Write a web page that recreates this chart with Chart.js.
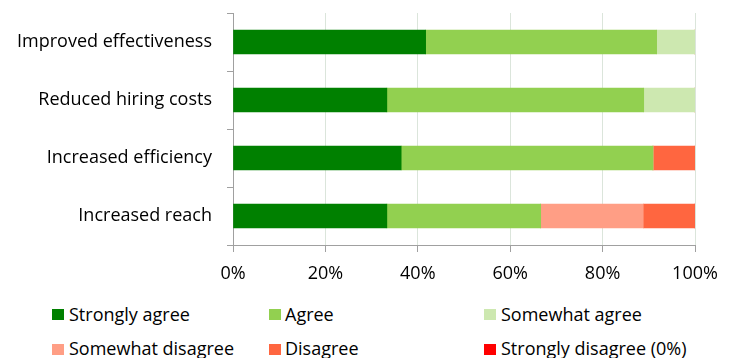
<!DOCTYPE html>
<html>
<head>
<meta charset="utf-8">
<script src="https://cdn.jsdelivr.net/npm/chart.js@4/dist/chart.umd.min.js"></script>
<style>
  html, body { margin: 0; padding: 0; background: #fff; }
  #wrap { position: relative; width: 731px; height: 358px; overflow: hidden; font-family: "Open Sans", sans-serif; }
  #chartBox { position: absolute; left: 0; top: 0; width: 731px; height: 290px; }
  .lg { position: absolute; font-size: 18px; line-height: 22px; color: #000; white-space: nowrap; }
  .sw { position: absolute; width: 12px; height: 11px; }
</style>
</head>
<body>
<div id="wrap">
  <div id="chartBox"><canvas id="c"></canvas></div>
  <div id="legend"></div>
</div>
<script>
const categories = ['Improved effectiveness', 'Reduced hiring costs', 'Increased efficiency', 'Increased reach'];
const seriesNames = ['Strongly agree', 'Agree', 'Somewhat agree', 'Somewhat disagree', 'Disagree', 'Strongly disagree (0%)'];
const stronglyAgree    = [41.7, 33.3, 36.4, 33.3];
const agree            = [50.0, 55.6, 54.5, 33.3];
const somewhatAgree    = [8.3, 11.1, 0, 0];
const somewhatDisagree = [0, 0, 0, 22.2];
const disagree         = [0, 0, 9.1, 11.1];
const stronglyDisagree = [0, 0, 0, 0];
const xTicks = [0, 20, 40, 60, 80, 100];

const colors = ['#008000', '#92d050', '#cde8b0', '#ff9e85', '#ff6640', '#ff0000'];
const values = [stronglyAgree, agree, somewhatAgree, somewhatDisagree, disagree, stronglyDisagree];

const FONT = { family: '"Open Sans", sans-serif', size: 18 };

const chart = new Chart(document.getElementById('c'), {
  type: 'bar',
  data: {
    labels: categories,
    datasets: seriesNames.map((n, i) => ({
      label: n,
      data: values[i],
      backgroundColor: colors[i],
      borderWidth: 0,
      barThickness: 24
    }))
  },
  options: {
    indexAxis: 'y',
    responsive: true,
    maintainAspectRatio: false,
    animation: false,
    layout: { padding: { top: 0, right: 36, left: 0, bottom: 0 } },
    plugins: { legend: { display: false }, tooltip: { enabled: false } },
    scales: {
      x: {
        stacked: true,
        min: 0, max: 100,
        afterBuildTicks: (s) => { s.ticks = xTicks.map(v => ({ value: v })); },
        afterFit: (s) => { s.height = 45; },
        ticks: { callback: (v) => v + '%', color: '#000', font: FONT, padding: 11, maxRotation: 0 },
        grid: { color: '#dbe5db', tickColor: '#a0a0a0', tickLength: 7, lineWidth: 1 },
        border: { color: '#a0a0a0', width: 1 }
      },
      y: {
        stacked: true,
        afterFit: (s) => { s.width = 233; s.paddingTop = 13; s.paddingBottom = 0; },
        ticks: { color: '#000', font: FONT, padding: 15 },
        grid: { drawOnChartArea: false, color: '#a0a0a0', tickLength: 6, offset: true },
        border: { color: '#a0a0a0', width: 1 }
      }
    }
  }
});

// HTML legend built from the chart's datasets
const legend = document.getElementById('legend');
const boxX = [52, 269, 484];
const textX = [69, 285, 501];
const rowTop = [303, 337];
const boxTop = [309, 344];
chart.data.datasets.forEach((ds, i) => {
  const col = i % 3, row = Math.floor(i / 3);
  const sw = document.createElement('div');
  sw.className = 'sw';
  sw.style.left = boxX[col] + 'px';
  sw.style.top = boxTop[row] + 'px';
  sw.style.background = ds.backgroundColor;
  legend.appendChild(sw);
  const t = document.createElement('div');
  t.className = 'lg';
  t.style.left = textX[col] + 'px';
  t.style.top = rowTop[row] + 'px';
  t.textContent = ds.label;
  legend.appendChild(t);
});
</script>
</body>
</html>
